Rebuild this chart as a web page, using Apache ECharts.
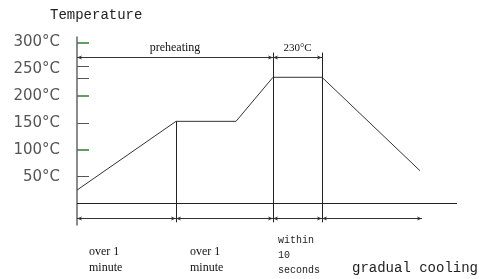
<!DOCTYPE html>
<html>
<head>
<meta charset="utf-8">
<script src="https://cdn.jsdelivr.net/npm/echarts@6/dist/echarts.min.js"></script>
<style>
  html, body { margin: 0; padding: 0; background: #fff; }
  #main { width: 479px; height: 279px; }
</style>
</head>
<body>
<div id="main"></div>
<script>
// reflow profile (time in arbitrary units, temperature in °C)
const profileTime = [0, 99, 159, 196, 245, 343];
const profileTemp = [25, 153, 153, 235, 235, 61];

// phase boundaries on the time axis
const phaseBounds = [0, 99, 196, 245, 345];
const timeEnd = 380;

// y axis
const yLabels = [50, 100, 150, 200, 250, 300];
const grayTicks = [50, 150, 233, 255];
const greenTicks = [100, 200, 300];
const yMin = -40;
const yMax = 310;

// dimension lines
const topArrowTemp = 272;
const lowArrowTemp = -28;
const peakGuideTop = 281;
const guideBottom = -35;

var chart = echarts.init(document.getElementById('main'), null, { renderer: 'canvas' });

function seg(x1, y1, x2, y2, arrows) {
  var a = { coord: [x1, y1] }, b = { coord: [x2, y2] };
  if (arrows) {
    a.symbol = 'arrow'; b.symbol = 'arrow';
    a.symbolSize = [3, 5]; b.symbolSize = [3, 5];
  }
  return [a, b];
}

var guideLines = [
  // plateau end drop
  seg(profileTime[1], profileTemp[1], profileTime[1], guideBottom),
  // peak window
  seg(profileTime[3], peakGuideTop, profileTime[3], guideBottom),
  seg(profileTime[4], peakGuideTop, profileTime[4], guideBottom),
  // baseline
  seg(0, 0, timeEnd, 0)
];

var lowArrows = [];
for (var i = 0; i < phaseBounds.length - 1; i++) {
  lowArrows.push(seg(phaseBounds[i], lowArrowTemp, phaseBounds[i + 1], lowArrowTemp, true));
}

var topArrows = [
  seg(0, topArrowTemp, profileTime[3], topArrowTemp, true),
  seg(profileTime[3], topArrowTemp, profileTime[4], topArrowTemp, true)
];
topArrows[0][0].label = { show: true, formatter: 'preheating' };
topArrows[1][0].label = { show: true, formatter: '230°C', fontSize: 11 };

var serifLbl = { fontFamily: 'Liberation Serif', fontSize: 12, fill: '#111' };

chart.setOption({
  animation: false,
  grid: { left: 77, top: 37, right: 22, bottom: 54 },
  xAxis: {
    type: 'value', min: 0, max: timeEnd,
    show: false
  },
  yAxis: [{
    type: 'value', min: yMin, max: yMax,
    splitLine: { show: false },
    axisLine: { show: true, lineStyle: { color: '#666', width: 1.5 } },
    axisTick: { show: true, inside: true, length: 12, customValues: grayTicks, lineStyle: { color: '#555', width: 1 } },
    axisLabel: {
      customValues: yLabels, margin: 17,
      formatter: '{value}°C',
      fontFamily: 'DejaVu Sans', fontSize: 15, color: '#555'
    }
  }, {
    type: 'value', min: yMin, max: yMax, position: 'left',
    splitLine: { show: false },
    axisLine: { show: false },
    axisLabel: { show: false },
    axisTick: { show: true, inside: true, length: 12, customValues: greenTicks, lineStyle: { color: '#2e7d32', width: 1.5 } }
  }],
  graphic: [
    { type: 'text', left: 50, top: 8, style: { text: 'Temperature', fontFamily: 'Liberation Mono', fontSize: 14, fill: '#222' } },
    { type: 'text', left: 89, top: 244, style: Object.assign({ text: 'over 1\nminute', lineHeight: 16 }, serifLbl) },
    { type: 'text', left: 190, top: 244, style: Object.assign({ text: 'over 1\nminute', lineHeight: 16 }, serifLbl) },
    { type: 'text', left: 278, top: 233, style: { text: 'within\n10\nseconds', lineHeight: 15, fontFamily: 'Liberation Mono', fontSize: 10, fill: '#222' } },
    { type: 'text', left: 352, top: 261, style: { text: 'gradual cooling', fontFamily: 'Liberation Mono', fontSize: 14, fill: '#222' } }
  ],
  series: [{
    type: 'line',
    data: profileTime.map(function (t, k) { return [t, profileTemp[k]]; }),
    showSymbol: false,
    lineStyle: { color: '#333', width: 1 },
    silent: true
  }, {
    type: 'line',
    data: [],
    silent: true,
    markLine: {
      silent: true, symbol: 'none', animation: false,
      lineStyle: { color: '#222', width: 1, type: 'solid' },
      label: { show: false },
      data: guideLines
    }
  }, {
    type: 'line',
    data: [],
    silent: true,
    markLine: {
      silent: true, symbol: 'none', animation: false,
      lineStyle: { color: '#333', width: 1, type: 'solid' },
      label: {
        show: false, position: 'insideMiddleTop', distance: 4,
        fontFamily: 'Liberation Serif', fontSize: 12, color: '#111'
      },
      data: topArrows.concat(lowArrows)
    }
  }]
});
</script>
</body>
</html>
